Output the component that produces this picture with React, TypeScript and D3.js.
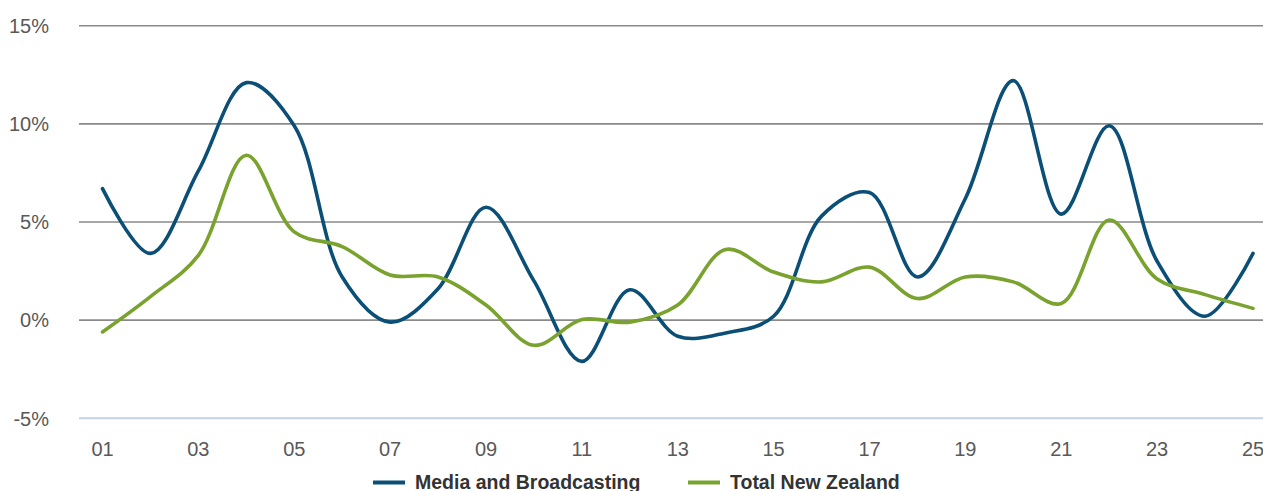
import React from "react";
import * as d3 from "d3";

const years = ["01","02","03","04","05","06","07","08","09","10","11","12","13","14","15","16","17","18","19","20","21","22","23","24","25"];
const mediaBroadcasting = [6.7, 3.4, 7.6, 12.1, 9.9, 2.2, -0.1, 1.6, 5.75, 2.0, -2.1, 1.55, -0.82, -0.65, 0.2, 5.3, 6.5, 2.2, 6.2, 12.2, 5.4, 9.9, 3.0, 0.2, 3.4];
const totalNZ = [-0.6, 1.2, 3.3, 8.4, 4.5, 3.75, 2.3, 2.2, 0.77, -1.28, 0.03, -0.1, 0.77, 3.6, 2.45, 1.95, 2.7, 1.1, 2.2, 1.95, 0.85, 5.1, 2.1, 1.3, 0.6];
const yTicks = [-5, 0, 5, 10, 15];
const xTickLabels = years.filter((_, i) => i % 2 === 0);
const seriesNames = ["Media and Broadcasting", "Total New Zealand"];
const seriesColors = ["#0b4f77", "#79a22e"];

const W = 1263;
const H = 491;

export default function App() {
  const x = d3.scalePoint<string>().domain(years).range([102.5, 1253]);
  const y = d3.scaleLinear().domain([-5, 15]).range([418.3, 25.7]);
  const line = d3
    .line<number>()
    .x((_, i) => x(years[i]) as number)
    .y((d) => y(d))
    .curve(d3.curveCatmullRom.alpha(0.5));
  const series = [mediaBroadcasting, totalNZ];
  const font = "'Liberation Sans', Arial, sans-serif";
  const legendItems = [
    { lx: 373, tx: 415 },
    { lx: 688, tx: 730 },
  ];
  return (
    <svg width={W} height={H} style={{ position: "absolute", left: 0, top: 0 }} fontFamily={font}>
      {yTicks.map((t) => (
        <g key={t}>
          <line
            x1={79}
            x2={W}
            y1={y(t)}
            y2={y(t)}
            stroke={t === -5 ? "#c8d1e3" : "#8a8a8a"}
            strokeWidth={t === -5 ? 2 : 1.6}
          />
          <text x={49} y={y(t) + 7.3} textAnchor="end" fontSize={20} fill="#595959">
            {t}%
          </text>
        </g>
      ))}
      {xTickLabels.map((l) => (
        <text key={l} x={x(l)} y={455.5} textAnchor="middle" fontSize={20} fill="#595959">
          {l}
        </text>
      ))}
      {series.map((s, i) => (
        <path key={i} d={line(s) || ""} fill="none" stroke={seriesColors[i]} strokeWidth={3.6} strokeLinecap="round" strokeLinejoin="round" />
      ))}
      {seriesNames.map((n, i) => (
        <g key={n}>
          <line x1={legendItems[i].lx} x2={legendItems[i].lx + 32} y1={482.5} y2={482.5} stroke={seriesColors[i]} strokeWidth={4} />
          <text x={legendItems[i].tx} y={488.5} fontSize={19.5} fontWeight="bold" fill="#333333">
            {n}
          </text>
        </g>
      ))}
    </svg>
  );
}
